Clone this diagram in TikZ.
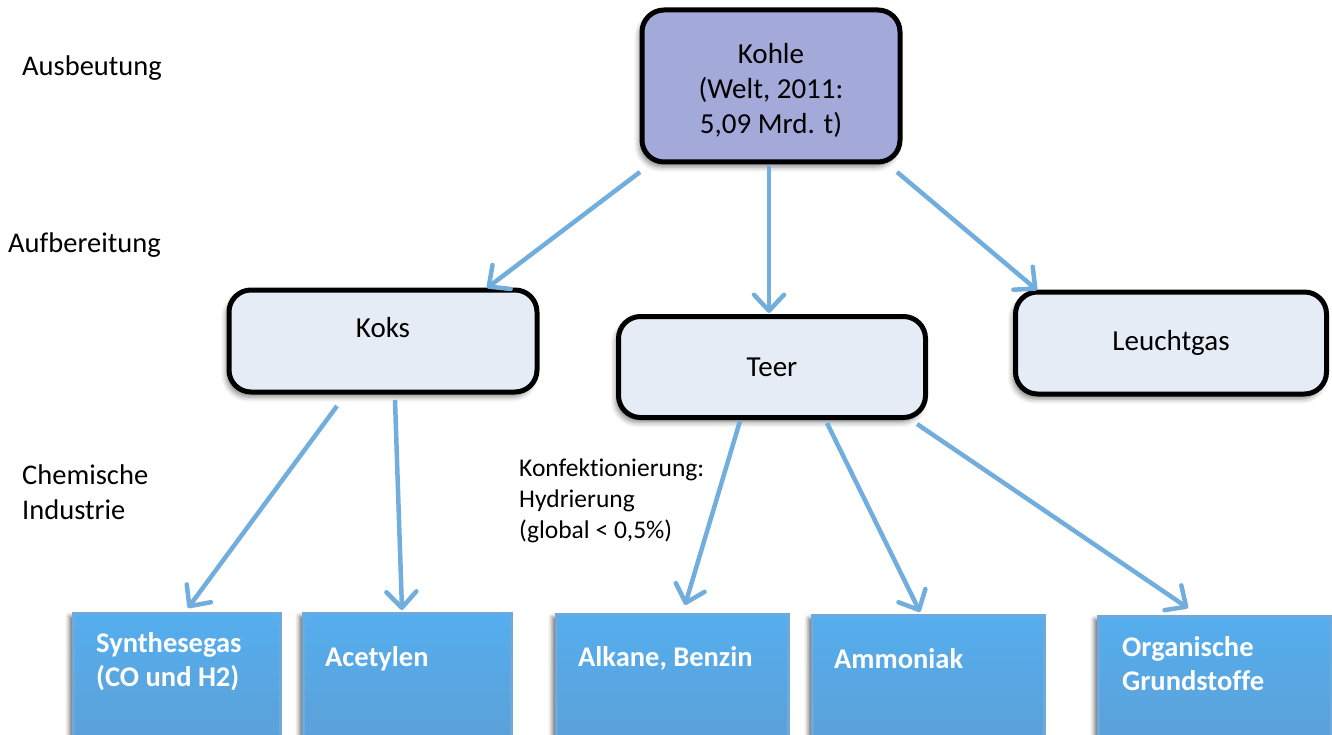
\documentclass[tikz,border=0pt]{standalone}
\usepackage{fontspec}
\setmainfont{Carlito}[Ligatures={NoCommon}]
\usetikzlibrary{arrows.meta,shadows.blur}

\definecolor{kohlefill}{HTML}{A3A9D9}
\definecolor{stufefill}{HTML}{E5ECF6}
\definecolor{pfeil}{HTML}{72AEDD}
\definecolor{produkttop}{HTML}{55AEEE}
\definecolor{produktbot}{HTML}{5C9FD6}
\definecolor{produktrand}{HTML}{6DA9DC}

\tikzset{
  hauptbox/.style={draw=black, line width=5pt, rounded corners=22pt,
    align=center, font=\fontsize{29}{35}\selectfont,
    blur shadow={shadow xshift=-3pt, shadow yshift=-5pt, shadow blur radius=5pt, shadow opacity=45}},
  haupttext/.style={align=center, inner sep=0pt, font=\fontsize{29}{35}\selectfont},
  produktbox/.style={draw=produktrand, line width=2.5pt,
    top color=produkttop, bottom color=produktbot,
    blur shadow={shadow xshift=-4pt, shadow yshift=-3pt, shadow blur radius=4pt, shadow opacity=55}},
  produkttext/.style={anchor=north west, align=left, text=white, inner sep=0pt,
    font=\bfseries\fontsize{28.5}{34}\selectfont},
  ebene/.style={anchor=west, align=left, inner sep=0pt, font=\fontsize{28.5}{35}\selectfont},
  fluss/.style={draw=pfeil, line width=4.5pt,
    -{Straight Barb[length=16pt, width=30pt, line width=4.5pt, round]}},
}

\begin{document}
\begin{tikzpicture}[x=1pt, y=-1pt]
\useasboundingbox (0,0) rectangle (1332,735);
\clip (0,0) rectangle (1332,735);

% Ebenen
\node[ebene] (ausbeutung) at (22,68) {Ausbeutung};
\node[ebene] (aufbereitung) at (8,245) {Aufbereitung};
\node[ebene] (chemie) at (22,492) {Chemische\\Industrie};

% Rohstoff
\node[hauptbox, fill=kohlefill, minimum width=258pt, minimum height=152pt] (kohle) at (771,86) {};
\node[haupttext] (kohleT) at (771,90.5) {Kohle\\(Welt, 2011:\\5,09 Mrd. t)};

% Aufbereitung
\node[hauptbox, fill=stufefill, minimum width=308pt, minimum height=102pt] (koks) at (383,341)
  {\raisebox{28pt}{Koks}};
\node[hauptbox, fill=stufefill, minimum width=307pt, minimum height=101pt] (teer) at (772,367) {Teer};
\node[hauptbox, fill=stufefill, minimum width=311pt, minimum height=102pt] (leuchtgas) at (1171,343)
  {\raisebox{-4pt}{Leuchtgas}};

% Produkte
\node[produktbox, anchor=north west, minimum width=207pt, minimum height=140pt] (synth) at (72,612) {};
\node[produktbox, anchor=north west, minimum width=208pt, minimum height=140pt] (acet) at (302,612) {};
\node[produktbox, anchor=north west, minimum width=232pt, minimum height=140pt] (alk) at (555,613) {};
\node[produktbox, anchor=north west, minimum width=232pt, minimum height=140pt] (ammo) at (811,614) {};
\node[produktbox, anchor=north west, minimum width=233pt, minimum height=140pt] (org) at (1097,615) {};

\node[produkttext] (synthT) at (96,632) {Synthesegas\\(CO und H2)};
\node[produkttext] (acetT) at (325,646) {Acetylen};
\node[produkttext] (alkT) at (578,646) {Alkane, Benzin};
\node[produkttext] (ammoT) at (834,648) {Ammoniak};
\node[produkttext] (orgT) at (1122,636) {Organische\\Grundstoffe};

% Beschriftung
\node[anchor=north west, align=left, inner sep=0pt, font=\fontsize{25.5}{31}\selectfont] (hydr) at (519,459)
  {Konfektionierung:\\Hydrierung\\(global < 0,5\%)};

% Pfeile
\coordinate (k1) at (640,172);
\coordinate (k2) at (769,166);
\coordinate (k3) at (897,172);
\coordinate (ko1) at (337,406);
\coordinate (ko2) at (395,400);
\coordinate (t1) at (740,421);
\coordinate (t2) at (827,423);
\coordinate (t3) at (917,424);
\coordinate (e1) at (487,288);
\coordinate (e2) at (769,313);
\coordinate (e3) at (1037,290);
\coordinate (e4) at (188,608);
\coordinate (e5) at (402,610);
\coordinate (e6) at (685,605);
\coordinate (e7) at (920,612);
\coordinate (e8) at (1188,608);

\draw[fluss] (k1) -- (e1);
\draw[fluss] (k2) -- (e2);
\draw[fluss] (k3) -- (e3);
\draw[fluss] (ko1) -- (e4);
\draw[fluss] (ko2) -- (e5);
\draw[fluss] (t1) -- (e6);
\draw[fluss] (t2) -- (e7);
\draw[fluss] (t3) -- (e8);
\end{tikzpicture}
\end{document}
